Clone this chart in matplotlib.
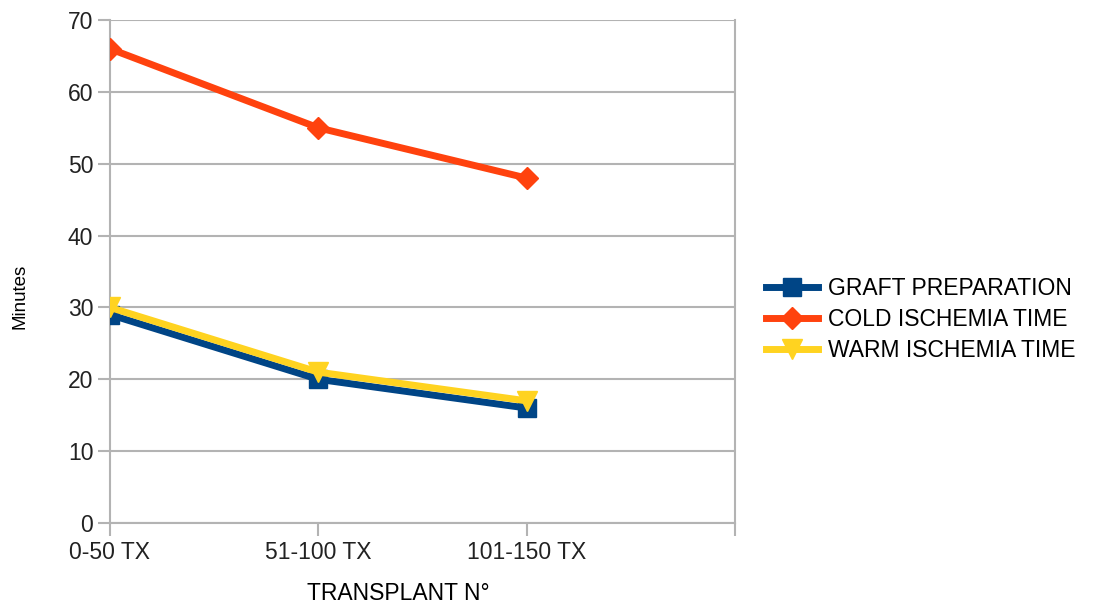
import matplotlib
matplotlib.use("Agg")
import matplotlib.pyplot as plt

plt.rcParams['font.family'] = ['Liberation Sans', 'DejaVu Sans']

# categories and series (minutes)
categories = ["0-50 TX", "51-100 TX", "101-150 TX"]
graft_prep = [29, 20, 16]
cold_isch = [66, 55, 48]
warm_isch = [30, 21, 17]

grid_col = "#b3b3b3"

fig = plt.figure(figsize=(11.14, 6.12), dpi=100)
ax = fig.add_axes([0.0987, 0.1454, 0.5611, 0.8219])

x = list(range(len(categories)))
ax.plot(x, graft_prep, color="#004586", lw=5, marker="s", ms=13,
        label="GRAFT PREPARATION", zorder=3)
ax.plot(x, cold_isch, color="#ff420e", lw=5, marker="D", ms=11,
        label="COLD ISCHEMIA TIME", zorder=3)
ax.plot(x, warm_isch, color="#ffd320", lw=5, marker="v", ms=14,
        label="WARM ISCHEMIA TIME", zorder=4)

ax.set_xlim(0, 3)
ax.set_ylim(0, 70)
ax.set_yticks(range(0, 71, 10))
ax.set_xticks([0, 1, 2, 3])
ax.set_xticklabels(categories + [""])
ax.yaxis.grid(True, color=grid_col, lw=1.5)
ax.set_axisbelow(True)

for side in ["left", "right", "bottom"]:
    ax.spines[side].set_color(grid_col)
    ax.spines[side].set_linewidth(1.5)
ax.spines["top"].set_visible(False)
ax.tick_params(axis="both", colors=grid_col, width=1.5, length=9,
               labelcolor="#222222", labelsize=16.5)
ax.tick_params(axis="y", pad=3)
ax.tick_params(axis="x", pad=4)

ax.set_ylabel("Minutes", fontsize=13.5)
ax.yaxis.set_label_coords(-0.131, 0.45)
ax.set_xlabel("TRANSPLANT N°", fontsize=16.5)
ax.xaxis.set_label_coords(0.462, -0.118)

ax.legend(loc="center left", bbox_to_anchor=(1.016, 0.404), frameon=False,
          fontsize=16.5, handlelength=2.3, handletextpad=0.4, labelspacing=0.35)

fig.savefig("out.png", dpi=100)
